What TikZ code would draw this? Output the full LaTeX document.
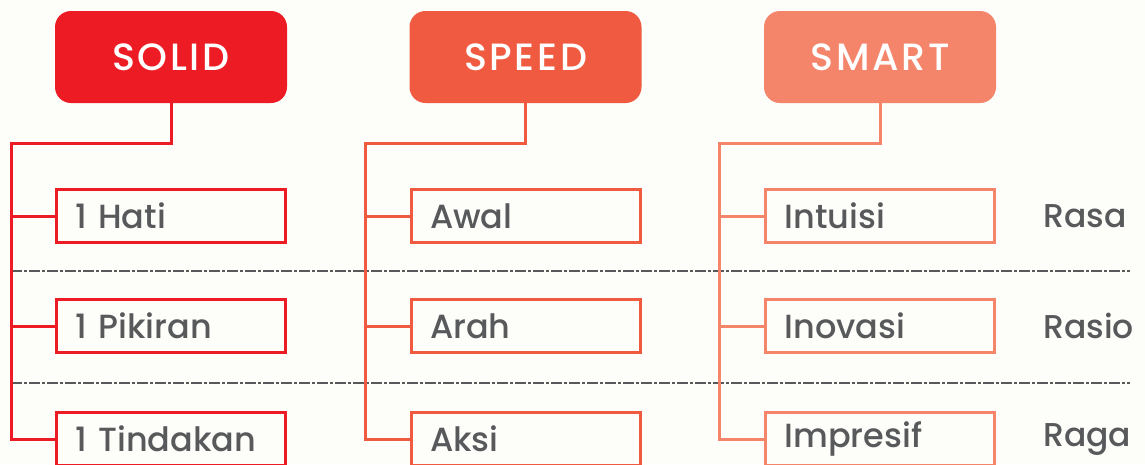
\documentclass[tikz,border=0pt]{standalone}
\usepackage{fontspec}
\setmainfont{Poppins}
\newfontfamily\medfont{Poppins}[UprightFont=* Medium]
\newfontfamily\headfont{Poppins}[UprightFont=* Medium, LetterSpace=7]
\usepackage{xcolor}
\usetikzlibrary{positioning}
\definecolor{solidred}{HTML}{ED1C24}
\definecolor{speedred}{HTML}{F05A40}
\definecolor{smartred}{HTML}{F4846A}
\definecolor{textgrey}{HTML}{58595B}
\definecolor{paper}{HTML}{FDFDFA}
\tikzset{
  header/.style={rounded corners=16pt, minimum width=232pt, minimum height=92pt,
    text=white, font=\headfont\fontsize{38}{42}\selectfont, inner sep=0pt},
  item/.style={draw=#1, line width=3pt, minimum height=53pt, inner xsep=19pt,
    text width=191pt, align=left, text=textgrey, font=\medfont\fontsize{33.5}{38}\selectfont},
  tag/.style={inner sep=0pt, text=textgrey, font=\medfont\fontsize{33}{38}\selectfont},
  link/.style={line width=3pt},
  sepline/.style={line width=1.8pt, textgrey, dash pattern=on 11pt off 2pt on 3pt off 2pt}
}

\begin{document}
\begin{tikzpicture}[x=1pt,y=-1pt]
 \useasboundingbox[fill=paper] (0,0) rectangle (1145,464);

 % Headers
 \node[header, fill=solidred] (solid) at (171,57) {SOLID};
 \node[header, fill=speedred] (speed) at (525.5,57) {SPEED};
 \node[header, fill=smartred] (smart) at (880,57) {SMART};

 % SOLID items
 \node[item=solidred, below=85pt of solid] (hati) {1 Hati};
 \node[item=solidred, below=54pt of hati] (pikiran) {1 Pikiran};
 \node[item=solidred, below=57pt of pikiran] (tindakan) {1 Tindakan};

 % SPEED items
 \node[item=speedred, below=85pt of speed] (awal) {Awal};
 \node[item=speedred, below=54pt of awal] (arah) {Arah};
 \node[item=speedred, below=57pt of arah] (aksi) {Aksi};

 % SMART items
 \node[item=smartred, below=85pt of smart] (intuisi) {Intuisi};
 \node[item=smartred, below=54pt of intuisi] (inovasi) {Inovasi};
 \node[item=smartred, below=57pt of inovasi] (impresif) {Impresif};

 % Right labels
 \node[tag, right=47pt of intuisi, anchor=west] (rasa) {Rasa};
 \node[tag, right=47pt of inovasi, anchor=west] (rasio) {Rasio};
 \node[tag, right=47pt of impresif, anchor=west] (raga) {Raga};

 % Separators
 \draw[sepline] (11,271) -- (1130,271);
 \draw[sepline] (11,383) -- (1130,383);

 % Trunks
 \coordinate (j1) at ([xshift=-44pt,yshift=-40pt] solid.south -| hati.west);
 \coordinate (j2) at ([xshift=-44pt,yshift=-40pt] speed.south -| awal.west);
 \coordinate (j3) at ([xshift=-45pt,yshift=-40pt] smart.south -| intuisi.west);

 \draw[link, solidred] (solid.south) |- (j1) |- (tindakan.west);
 \draw[link, solidred] (j1 |- hati.west) -- (hati.west);
 \draw[link, solidred] (j1 |- pikiran.west) -- (pikiran.west);

 \draw[link, speedred] (speed.south) |- (j2) |- (aksi.west);
 \draw[link, speedred] (j2 |- awal.west) -- (awal.west);
 \draw[link, speedred] (j2 |- arah.west) -- (arah.west);

 \draw[link, smartred] (smart.south) |- (j3) |- (impresif.west);
 \draw[link, smartred] (j3 |- intuisi.west) -- (intuisi.west);
 \draw[link, smartred] (j3 |- inovasi.west) -- (inovasi.west);
\end{tikzpicture}
\end{document}
